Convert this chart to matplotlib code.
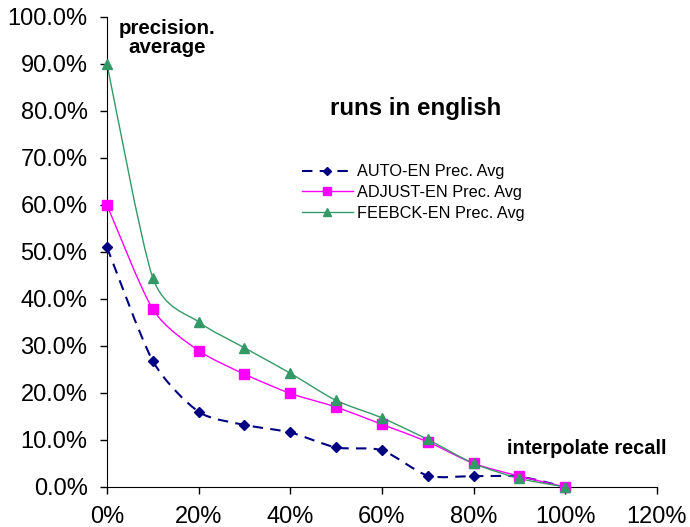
import matplotlib
matplotlib.use("Agg")
import matplotlib.pyplot as plt
from matplotlib.path import Path
from matplotlib.patches import PathPatch
from matplotlib.lines import Line2D
from matplotlib.ticker import FuncFormatter

plt.rcParams['font.family'] = ['Liberation Sans', 'DejaVu Sans']

recall = [0, 10, 20, 30, 40, 50, 60, 70, 80, 90, 100]
auto_en = [51.0, 26.8, 16.0, 13.2, 11.6, 8.4, 7.8, 2.4, 2.3, 2.2, 0.0]
adjust_en = [60.0, 37.8, 29.0, 24.0, 19.9, 17.0, 13.3, 9.6, 5.0, 2.3, 0.0]
feebck_en = [90.0, 44.5, 35.1, 29.6, 24.2, 18.4, 14.7, 10.1, 5.0, 1.8, 0.0]

series_names = ["AUTO-EN Prec. Avg", "ADJUST-EN Prec. Avg", "FEEBCK-EN Prec. Avg"]
colors = ["#000080", "#FF00FF", "#339966"]
markers = ["D", "s", "^"]
msizes = [5.5, 7, 7.5]
styles = [(0, (5, 3.5)), "-", "-"]
widths = [1.5, 1.0, 1.0]

fig = plt.figure(figsize=(6.9, 5.27), dpi=100)
ax = fig.add_axes([0.155, 0.076, 0.797, 0.892])


def smooth_path(xs, ys, k=8.0):
    verts = [(xs[0], ys[0])]
    codes = [Path.MOVETO]
    n = len(xs)
    for i in range(n - 1):
        x0, y0 = (xs[i - 1], ys[i - 1]) if i > 0 else (xs[i], ys[i])
        x1, y1 = xs[i], ys[i]
        x2, y2 = xs[i + 1], ys[i + 1]
        x3, y3 = (xs[i + 2], ys[i + 2]) if i + 2 < n else (xs[i + 1], ys[i + 1])
        c1 = (x1 + (x2 - x0) / k, y1 + (y2 - y0) / k)
        c2 = (x2 - (x3 - x1) / k, y2 - (y3 - y1) / k)
        verts += [c1, c2, (x2, y2)]
        codes += [Path.CURVE4] * 3
    return Path(verts, codes)


handles = []
for ys, name, c, m, ms, ls, lw in zip([auto_en, adjust_en, feebck_en], series_names,
                                       colors, markers, msizes, styles, widths):
    patch = PathPatch(smooth_path(recall, ys), facecolor='none', edgecolor=c,
                      linestyle=ls, linewidth=lw, zorder=2)
    ax.add_patch(patch)
    ax.plot(recall, ys, linestyle='none', marker=m, markersize=ms, color=c,
            markeredgecolor=c, zorder=3, clip_on=False)
    handles.append(Line2D([], [], color=c, linestyle=ls, linewidth=lw,
                          marker=m, markersize=ms - 1.5, label=name))

ax.set_xlim(0, 120)
ax.set_ylim(0, 100)
ax.set_xticks(range(0, 121, 20))
ax.set_yticks(range(0, 101, 10))
ax.xaxis.set_major_formatter(FuncFormatter(lambda v, p: f"{v:.0f}%"))
ax.yaxis.set_major_formatter(FuncFormatter(lambda v, p: f"{v:.1f}%"))
ax.tick_params(axis='both', labelsize=17, direction='out', length=5, width=1)
ax.tick_params(axis='y', pad=9)
ax.tick_params(axis='x', pad=8.5)
ax.spines['top'].set_visible(False)
ax.spines['right'].set_visible(False)

ax.text(13.1, 99.6, "precision.\naverage", ha='center', va='top', fontsize=14.8,
        fontweight='bold', linespacing=1.0)
ax.text(67.3, 80.6, "runs in english", ha='center', va='center', fontsize=17.4,
        fontweight='bold')
ax.text(104.7, 8.1, "interpolate recall", ha='center', va='center', fontsize=14.4,
        fontweight='bold')

ax.legend(handles=handles, loc='upper left', bbox_to_anchor=(0.355, 0.686),
          frameon=False, fontsize=11.7, handlelength=3.1, labelspacing=0.35,
          borderaxespad=0, borderpad=0, handletextpad=0.3)

fig.savefig("out.png", dpi=100)
